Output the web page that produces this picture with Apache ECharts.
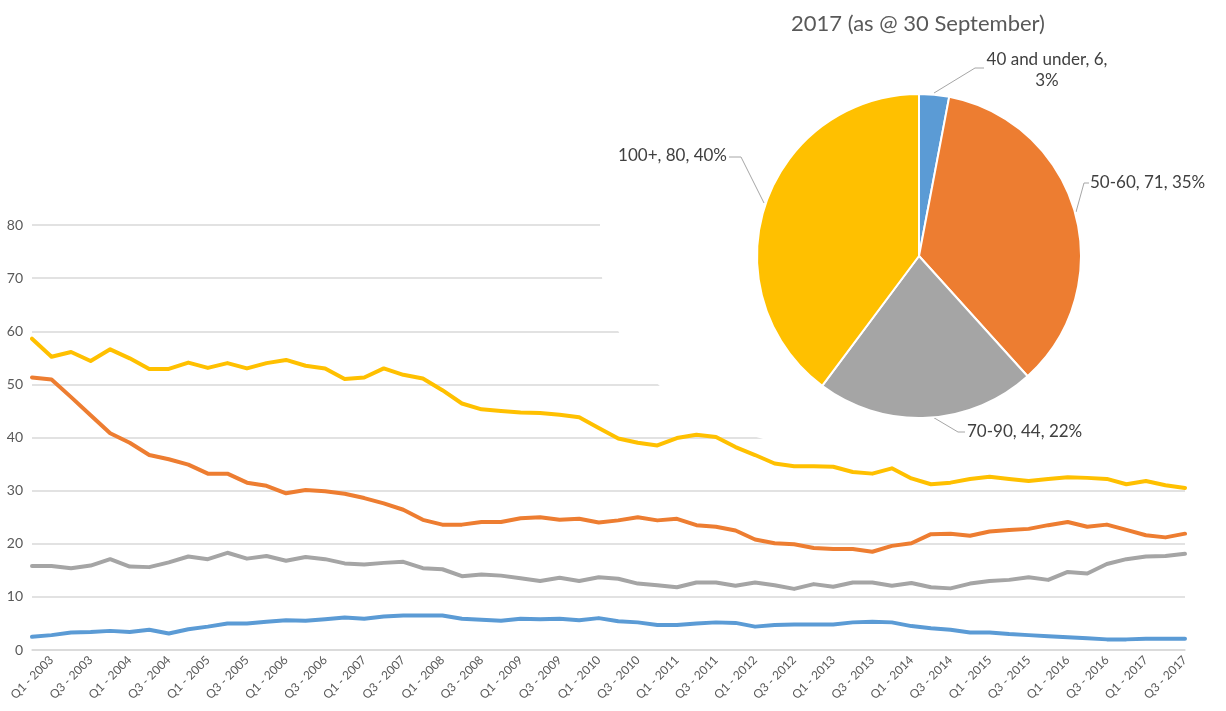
<!DOCTYPE html>
<html lang="en">
<head>
    <meta charset="UTF-8">
    <title>Chart</title>
    <script src="https://cdn.jsdelivr.net/npm/echarts@6/dist/echarts.min.js"></script>
    <style>
        html, body { margin: 0; padding: 0; background: #fff; }
    </style>
</head>
<body>
<div id="main" style="width: 1226px;height:711px;"></div>
<script type="text/javascript">
    // quarters, Q4 2002 .. Q3 2017
    var quarters = [
        'Q4 - 2002',
        'Q1 - 2003', 'Q2 - 2003', 'Q3 - 2003', 'Q4 - 2003',
        'Q1 - 2004', 'Q2 - 2004', 'Q3 - 2004', 'Q4 - 2004',
        'Q1 - 2005', 'Q2 - 2005', 'Q3 - 2005', 'Q4 - 2005',
        'Q1 - 2006', 'Q2 - 2006', 'Q3 - 2006', 'Q4 - 2006',
        'Q1 - 2007', 'Q2 - 2007', 'Q3 - 2007', 'Q4 - 2007',
        'Q1 - 2008', 'Q2 - 2008', 'Q3 - 2008', 'Q4 - 2008',
        'Q1 - 2009', 'Q2 - 2009', 'Q3 - 2009', 'Q4 - 2009',
        'Q1 - 2010', 'Q2 - 2010', 'Q3 - 2010', 'Q4 - 2010',
        'Q1 - 2011', 'Q2 - 2011', 'Q3 - 2011', 'Q4 - 2011',
        'Q1 - 2012', 'Q2 - 2012', 'Q3 - 2012', 'Q4 - 2012',
        'Q1 - 2013', 'Q2 - 2013', 'Q3 - 2013', 'Q4 - 2013',
        'Q1 - 2014', 'Q2 - 2014', 'Q3 - 2014', 'Q4 - 2014',
        'Q1 - 2015', 'Q2 - 2015', 'Q3 - 2015', 'Q4 - 2015',
        'Q1 - 2016', 'Q2 - 2016', 'Q3 - 2016', 'Q4 - 2016',
        'Q1 - 2017', 'Q2 - 2017', 'Q3 - 2017'
    ];

    var under40 = [
        2.5, 2.8, 3.3, 3.4, 3.6, 3.4, 3.8, 3.1, 3.9, 4.4,
        5.0, 5.0, 5.3, 5.6, 5.5, 5.8, 6.1, 5.9, 6.3, 6.5,
        6.5, 6.5, 5.9, 5.7, 5.5, 5.9, 5.8, 5.9, 5.6, 6.0,
        5.4, 5.2, 4.7, 4.7, 5.0, 5.2, 5.1, 4.4, 4.7, 4.8,
        4.8, 4.8, 5.2, 5.3, 5.2, 4.5, 4.1, 3.8, 3.3, 3.3,
        3.0, 2.8, 2.6, 2.4, 2.2, 2.0, 2.0, 2.1, 2.1, 2.1
    ];
    var from50to60 = [
        51.3, 50.9, 47.6, 44.2, 40.8, 39.0, 36.7, 35.9, 34.9, 33.2,
        33.2, 31.5, 30.9, 29.5, 30.1, 29.9, 29.4, 28.6, 27.6, 26.4,
        24.5, 23.6, 23.6, 24.1, 24.1, 24.8, 25.0, 24.5, 24.7, 24.0,
        24.4, 25.0, 24.4, 24.7, 23.5, 23.2, 22.5, 20.8, 20.1, 19.9,
        19.2, 19.0, 19.0, 18.5, 19.6, 20.1, 21.8, 21.9, 21.5, 22.3,
        22.6, 22.8, 23.5, 24.1, 23.2, 23.6, 22.6, 21.6, 21.2, 21.9
    ];
    var from70to90 = [
        15.8, 15.8, 15.4, 15.9, 17.1, 15.7, 15.6, 16.5, 17.6, 17.1,
        18.3, 17.2, 17.7, 16.8, 17.5, 17.1, 16.3, 16.1, 16.4, 16.6,
        15.4, 15.2, 13.9, 14.2, 14.0, 13.5, 13.0, 13.6, 13.0, 13.7,
        13.4, 12.5, 12.2, 11.8, 12.7, 12.7, 12.1, 12.7, 12.2, 11.5,
        12.4, 11.9, 12.7, 12.7, 12.1, 12.6, 11.8, 11.6, 12.5, 13.0,
        13.2, 13.7, 13.2, 14.7, 14.4, 16.2, 17.1, 17.6, 17.7, 18.1
    ];
    var over100 = [
        58.6, 55.2, 56.1, 54.4, 56.6, 54.9, 52.9, 52.9, 54.1, 53.1,
        54.0, 53.0, 54.0, 54.6, 53.5, 53.0, 51.0, 51.3, 53.0, 51.8,
        51.1, 48.9, 46.4, 45.3, 45.0, 44.7, 44.6, 44.3, 43.8, 41.8,
        39.8, 39.0, 38.5, 39.9, 40.5, 40.1, 38.2, 36.7, 35.1, 34.6,
        34.6, 34.5, 33.5, 33.2, 34.2, 32.3, 31.2, 31.5, 32.2, 32.6,
        32.2, 31.8, 32.2, 32.5, 32.4, 32.2, 31.2, 31.8, 31.0, 30.5
    ];

    // 2017 pie
    var groups = ['40 and under', '50-60', '70-90', '100+'];
    var counts2017 = [6, 71, 44, 80];
    var colors = ['#5B9BD5', '#ED7D31', '#A5A5A5', '#FFC000'];

    var lineData = [under40, from50to60, from70to90, over100];

    // white backing panel of the pie chart, curved bottom-left corner
    function panelPoints() {
        var pts = [[600, 172], [1205, 172], [1205, 452], [875, 452]];
        for (var k = 1; k < 24; k++) {
            var t = k / 24, u = 1 - t;
            pts.push([
                u * u * u * 875 + 3 * u * u * t * 675 + 3 * u * t * t * 600 + t * t * t * 600,
                u * u * u * 452 + 3 * u * u * t * 452 + 3 * u * t * t * 350 + t * t * t * 250
            ]);
        }
        pts.push([600, 250]);
        return pts;
    }

    // where the Excel callouts sit
    var pieLabelSpots = [
        { x: 1047, y: 70, align: 'center', line: [[934, 93], [975, 68], [984, 68]] },
        { x: 1090, y: 183, align: 'left', line: [[1076, 212], [1084, 183], [1089, 183]] },
        { x: 967, y: 432, align: 'left', line: [[931, 416], [958, 432], [965, 432]] },
        { x: 727, y: 156, align: 'right', line: [[764, 203], [741, 157], [729, 157]] }
    ];

    var font = 'Lato, "Open Sans", sans-serif';

    var series = lineData.map(function (d, i) {
        return {
            name: groups[i],
            type: 'line',
            data: d,
            symbol: 'none',
            z: 3,
            lineStyle: { width: 4, color: colors[i], cap: 'round', join: 'round' },
            itemStyle: { color: colors[i] }
        };
    });

    series.push({
        type: 'pie',
        center: [919, 256],
        radius: 162,
        startAngle: 90,
        clockwise: true,
        percentPrecision: 0,
        z: 4,
        itemStyle: { borderColor: '#fff', borderWidth: 2 },
        label: {
            color: '#404040',
            fontSize: 17,
            fontFamily: font,
            lineHeight: 21,
            overflow: 'none',
            edgeDistance: 0,
            formatter: function (p) {
                if (p.dataIndex === 0) {
                    return p.name + ', ' + p.value + ',\n' + p.percent + '%';
                }
                return p.name + ', ' + p.value + ', ' + p.percent + '%';
            }
        },
        labelLine: {
            length: 18,
            length2: 10,
            lineStyle: { color: '#A6A6A6', width: 1 }
        },
        labelLayout: function (params) {
            var s = pieLabelSpots[params.dataIndex];
            return {
                x: s.x,
                y: s.y,
                width: 200,
                align: s.align,
                verticalAlign: 'middle',
                labelLinePoints: s.line
            };
        },
        data: groups.map(function (g, i) {
            return { name: g, value: counts2017[i], itemStyle: { color: colors[i] } };
        })
    });

    var option = {
        animation: false,
        backgroundColor: '#fff',
        title: {
            text: '2017 (as @ 30 September)',
            left: 913,
            top: 8,
            textAlign: 'center',
            textStyle: { color: '#595959', fontSize: 22, fontWeight: 'normal', fontFamily: font }
        },
        grid: { left: 32, right: 41, top: 225, bottom: 61 },
        xAxis: {
            type: 'category',
            data: quarters,
            boundaryGap: false,
            axisLine: { lineStyle: { color: '#D9D9D9', width: 1.5 } },
            axisTick: { show: false },
            axisLabel: {
                rotate: 45,
                color: '#595959',
                fontSize: 12,
                fontFamily: font,
                margin: 8,
                interval: function (index) { return index % 2 === 1; }
            }
        },
        yAxis: {
            type: 'value',
            min: 0,
            max: 80,
            interval: 10,
            axisLine: { show: false },
            axisTick: { show: false },
            axisLabel: { color: '#595959', fontSize: 14, fontFamily: font, margin: 9 },
            splitLine: { lineStyle: { color: '#D9D9D9', width: 1.5 } }
        },
        graphic: [{
            type: 'polygon',
            z: 1,
            shape: { points: panelPoints() },
            style: { fill: '#fff' }
        }],
        series: series
    };

    var myChart = echarts.init(document.getElementById('main'));
    myChart.setOption(option);
</script>
</body>
</html>
